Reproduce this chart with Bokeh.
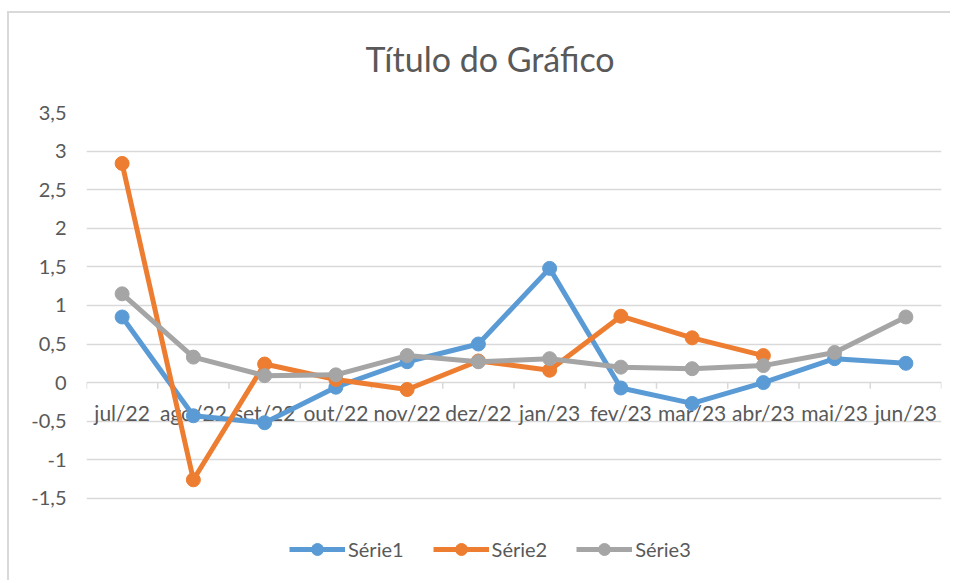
from bokeh.plotting import figure
from bokeh.models import (Range1d, FixedTicker, CustomJSTickFormatter, Legend, LegendItem,
                          ColumnDataSource)
from bokeh.core.properties import value
from bokeh.embed import file_html
from bokeh.resources import INLINE

categories = ["jul/22", "ago/22", "set/22", "out/22", "nov/22", "dez/22",
              "jan/23", "fev/23", "mar/23", "abr/23", "mai/23", "jun/23"]
serie1 = [0.85, -0.43, -0.52, -0.06, 0.27, 0.50, 1.48, -0.07, -0.27, 0.00, 0.31, 0.25]
serie2 = [2.84, -1.26, 0.24, 0.04, -0.09, 0.28, 0.16, 0.86, 0.58, 0.35]
serie3 = [1.15, 0.33, 0.09, 0.10, 0.35, 0.27, 0.31, 0.20, 0.18, 0.22, 0.39, 0.85]
y_ticks = [-1.5, -1, -0.5, 0, 0.5, 1, 1.5, 2, 2.5, 3, 3.5]
title_text = "Título do Gráfico"

names = ["Série1", "Série2", "Série3"]
colors = ["#5B9BD5", "#ED7D31", "#A5A5A5"]
series = [serie1, serie2, serie3]

FONT = "Lato"
TXT = "#595959"
GRID = "#D9D9D9"

W, H = 950, 580
n = len(categories)
p = figure(width=W, height=H, output_backend="svg", toolbar_location=None,
           x_range=Range1d(-0.5, n - 0.5), y_range=Range1d(-2.5, max(y_ticks)),
           x_axis_location=None,
           min_border_left=86, min_border_right=9, min_border_top=112,
           min_border_bottom=5)
p.outline_line_color = None
p.border_fill_color = None
p.background_fill_color = "white"
# chart-area frame lines (top and left edge) drawn as a CSS background
p.styles = {"background-color": "white",
            "background-image": "linear-gradient(#D9D9D9, #D9D9D9), linear-gradient(#D9D9D9, #D9D9D9)",
            "background-size": "100% 2px, 2px 100%",
            "background-position": "8px 11px, 7px 11px",
            "background-repeat": "no-repeat"}

p.title.text = title_text
p.title.text_font = FONT
p.title.text_font_size = "34px"
p.title.text_font_style = "normal"
p.title.text_color = TXT
p.title.align = "left"
p.title.offset = 279
p.title.standoff = 68

# y axis
p.yaxis.ticker = FixedTicker(ticks=y_ticks)
p.yaxis.formatter = CustomJSTickFormatter(code="return tick.toString().replace('.', ',');")
p.yaxis.axis_line_color = None
p.yaxis.major_tick_line_color = None
p.yaxis.minor_tick_line_color = None
p.yaxis.major_label_text_font = FONT
p.yaxis.major_label_text_font_size = "20px"
p.yaxis.major_label_text_color = TXT
p.yaxis.major_label_standoff = 14
p.ygrid.grid_line_color = GRID
p.ygrid.grid_line_width = 1.5
p.xgrid.grid_line_color = None

# category axis crossing at zero: boundary ticks and labels
bounds = [i - 0.5 for i in range(n + 1)]
p.segment(x0=bounds, y0=[0] * len(bounds), x1=bounds, y1=[-0.08] * len(bounds),
          line_color=GRID, line_width=1.5)
p.text(x=list(range(n)), y=[0] * n, text=categories, text_font=value(FONT),
       text_font_size="21px", text_color=TXT, text_align="center",
       text_baseline="middle", y_offset=30)

items = []
for name, color, vals in zip(names, colors, series):
    src = ColumnDataSource(dict(x=list(range(len(vals))), y=vals))
    r1 = p.line("x", "y", source=src, line_color=color, line_width=5, line_join="round")
    r2 = p.scatter("x", "y", source=src, size=14, fill_color=color, line_color=color)
    items.append(LegendItem(label=name, renderers=[r1, r2]))

legend = Legend(items=items, orientation="horizontal", location=(203, 11),
                label_text_font=FONT, label_text_font_size="20px", label_text_color=TXT,
                glyph_width=56, glyph_height=30, label_standoff=3, spacing=29,
                border_line_color=None, background_fill_alpha=0, margin=0, padding=4)
p.add_layout(legend)

open("out.html", "w").write(file_html(p, INLINE))
